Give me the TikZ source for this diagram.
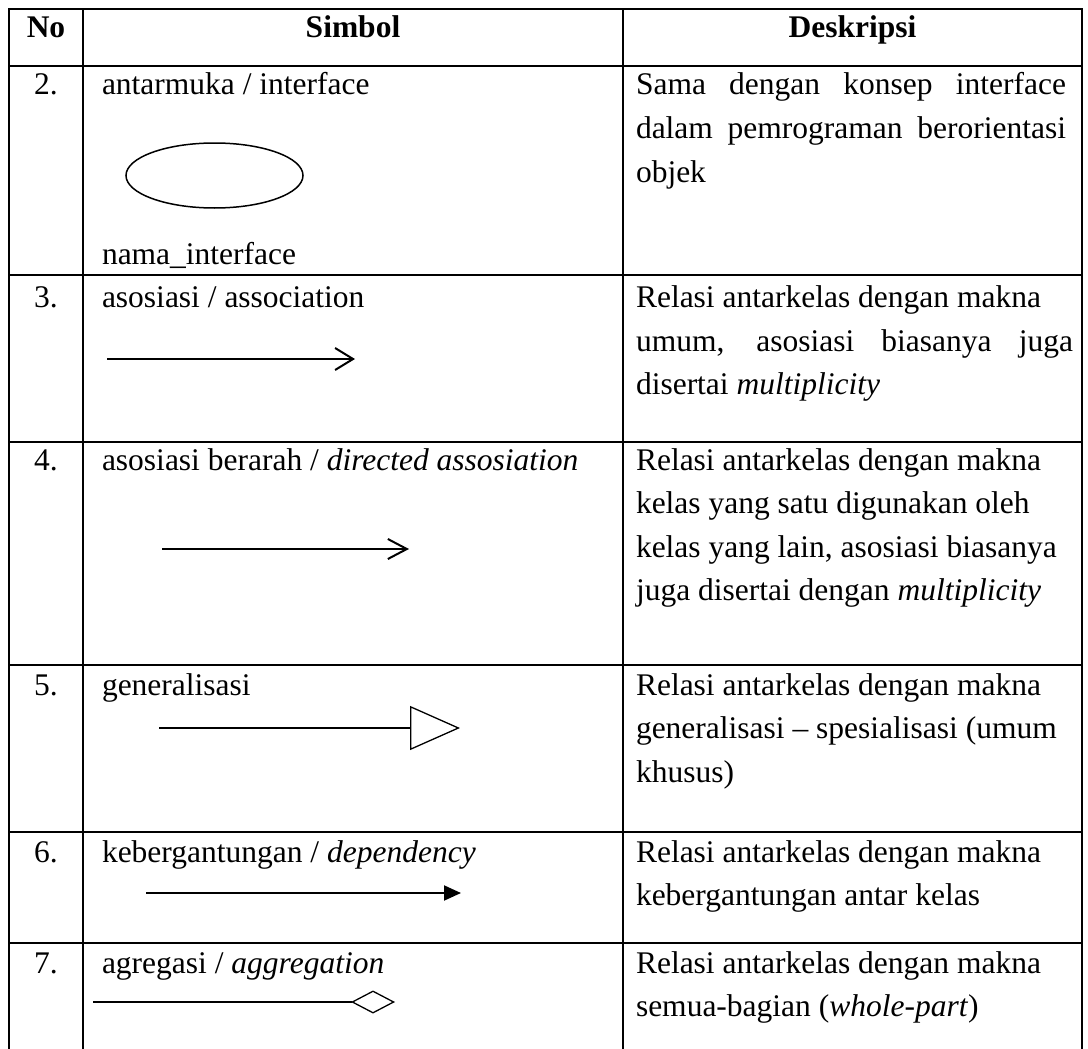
\documentclass[tikz,border=0pt]{standalone}
\usepackage{fontspec}
\setmainfont{Liberation Serif}
\usetikzlibrary{arrows.meta,shapes.geometric}

% body text of the table
\newcommand{\bodyfont}{\fontsize{31.5}{43.5}\selectfont}
% a justified line spread to a given width
\newcommand{\spreadline}[2]{\makebox[#1pt][s]{#2}}

\tikzset{
  rule/.style={line width=2.2pt, line cap=rect},
  cell/.style={anchor=base west, inner sep=0pt, outer sep=0pt, font=\bodyfont},
  num/.style={anchor=base, inner sep=0pt, outer sep=0pt, font=\bodyfont},
  head/.style={anchor=base, inner sep=0pt, outer sep=0pt, font=\bodyfont\bfseries},
  thickrel/.style={line width=2pt},
  thinrel/.style={line width=1.3pt},
}

\begin{document}
\begin{tikzpicture}[x=1pt, y=-1pt]
  \useasboundingbox (0,0) rectangle (1088,1049);
  \fill[white] (0,0) rectangle (1088,1049);

  % ---- table rules ----
  \draw[rule] (9,9) -- (1082,9);
  \foreach \yy in {66,275,442,665,832,943}
    \draw[rule] (9,\yy) -- (1082,\yy);
  \begin{scope}
    \clip (0,0) rectangle (1088,1049);
    \foreach \xx in {9,83,623,1082}
      \draw[line width=2.2pt] (\xx,9) -- (\xx,1060);
  \end{scope}

  % ---- header ----
  \node[head] (hNo)   at (46,38)  {No};
  \node[head] (hSym)  at (353,38) {Simbol};
  \node[head] (hDesk) at (852.5,38) {Deskripsi};

  % ---- row 2: interface ----
  \node[num]  (n2)  at (46,95)  {2.};
  \node[cell] (s2)  at (102,95) {antarmuka / interface};
  \node[draw, ellipse, line width=1.5pt, minimum width=177pt, minimum height=65pt,
        inner sep=0pt] (iface) at (214.5,175.5) {};
  \node[cell] (s2b) at (102,264) {nama\_interface};
  \node[cell] (d2a) at (636,95)  {\spreadline{430}{Sama dengan konsep interface}};
  \node[cell] (d2b) at (636,139) {\spreadline{430}{dalam pemrograman berorientasi}};
  \node[cell] (d2c) at (636,182) {objek};

  % ---- row 3: association ----
  \node[num]  (n3)  at (46,307)  {3.};
  \node[cell] (s3)  at (102,307) {asosiasi / association};
  \coordinate (a3s) at (107,359);
  \coordinate (a3e) at (355,359);
  \draw[thickrel, -{Straight Barb[length=18pt,width=22pt,line width=2pt]}] (a3s) -- (a3e);
  \node[cell] (d3a) at (636,307) {Relasi antarkelas dengan makna};
  \node[cell] (d3b) at (636,351) {\spreadline{437}{umum, asosiasi biasanya juga}};
  \node[cell] (d3c) at (636,394) {disertai \textit{multiplicity}};

  % ---- row 4: directed association ----
  \node[num]  (n4)  at (46,470)  {4.};
  \node[cell] (s4)  at (102,470) {asosiasi berarah / \textit{directed assosiation}};
  \coordinate (a4s) at (162,549);
  \coordinate (a4e) at (409,549);
  \draw[thickrel, -{Straight Barb[length=19pt,width=20pt,line width=2pt]}] (a4s) -- (a4e);
  \node[cell] (d4a) at (636,470) {Relasi antarkelas dengan makna};
  \node[cell] (d4b) at (636,513) {kelas yang satu digunakan oleh};
  \node[cell] (d4c) at (636,557) {kelas yang lain, asosiasi biasanya};
  \node[cell] (d4d) at (636,600) {juga disertai dengan \textit{multiplicity}};

  % ---- row 5: generalization ----
  \node[num]  (n5)  at (46,695)  {5.};
  \node[cell] (s5)  at (102,695) {generalisasi};
  \coordinate (a5s) at (159,728);
  \coordinate (a5e) at (460,728);
  \draw[thinrel, -{Triangle[open,length=50pt,width=44pt]}] (a5s) -- (a5e);
  \node[cell] (d5a) at (636,695) {Relasi antarkelas dengan makna};
  \node[cell] (d5b) at (636,738) {generalisasi – spesialisasi (umum};
  \node[cell] (d5c) at (636,782) {khusus)};

  % ---- row 6: dependency ----
  \node[num]  (n6)  at (46,862)  {6.};
  \node[cell] (s6)  at (102,862) {kebergantungan / \textit{dependency}};
  \coordinate (a6s) at (146,893);
  \coordinate (a6e) at (461,893);
  \draw[thickrel, -{Triangle[length=17pt,width=15pt]}] (a6s) -- (a6e);
  \node[cell] (d6a) at (636,862) {Relasi antarkelas dengan makna};
  \node[cell] (d6b) at (636,905) {kebergantungan antar kelas};

  % ---- row 7: aggregation ----
  \node[num]  (n7)  at (46,973)  {7.};
  \node[cell] (s7)  at (102,973) {agregasi / \textit{aggregation}};
  \coordinate (a7s) at (93,1002);
  \coordinate (a7e) at (395,1002);
  \draw[thinrel, -{Diamond[open,length=44pt,width=23pt]}] (a7s) -- (a7e);
  \node[cell] (d7a) at (636,973)  {Relasi antarkelas dengan makna};
  \node[cell] (d7b) at (636,1016) {semua-bagian (\textit{whole-part})};
\end{tikzpicture}
\end{document}
